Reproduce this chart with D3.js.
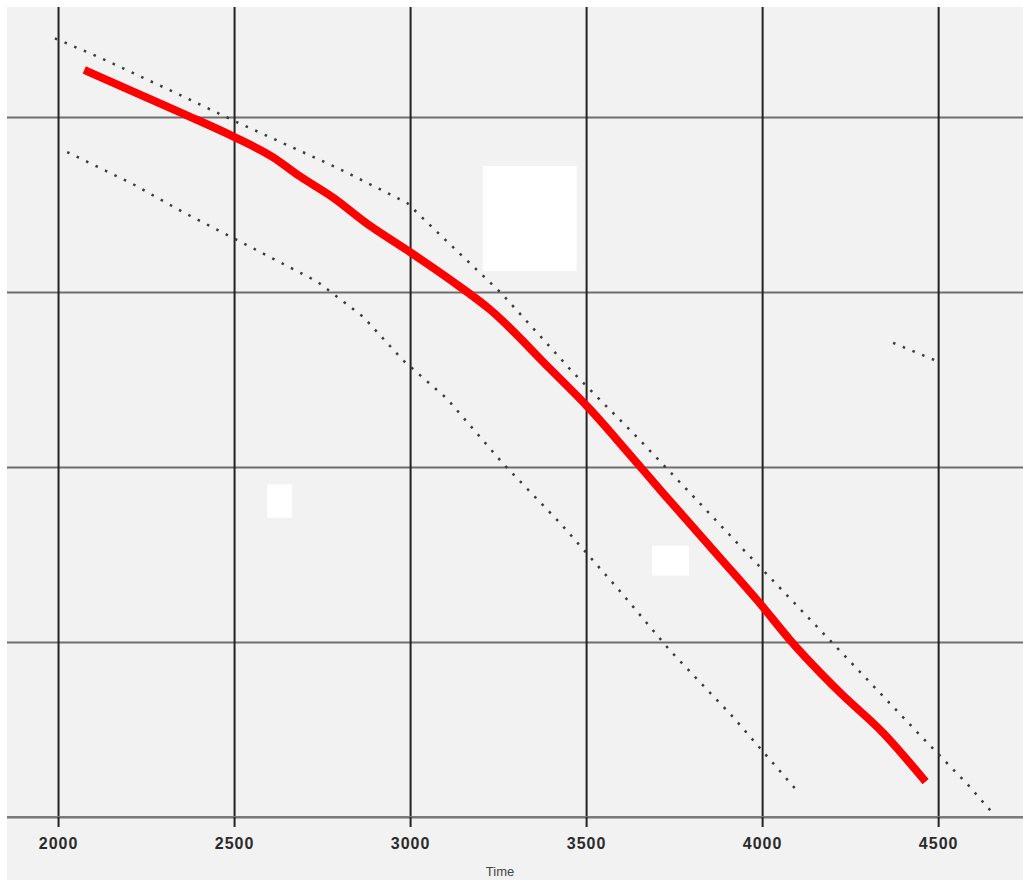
<!DOCTYPE html>
<html>
<head>
<meta charset="utf-8">
<script src="https://cdn.jsdelivr.net/npm/d3@7"></script>
<style>
  body { margin: 0; background: #ffffff; }
  #container { width: 1023px; height: 880px; overflow: hidden; }
</style>
</head>
<body>
<div id="container"></div>
<script>
let w = 1023;
let h = 880;

// tick labels along the bottom (time)
let xTicks = [2000, 2500, 3000, 3500, 4000, 4500];
// horizontal grid levels (no labels printed on the scan)
let yTicks = [0, 1, 2, 3, 4];

// red measured curve: time and value
let redTime  = [2085, 2355, 2497, 2611, 2688, 2781, 2878, 2991, 3114, 3227, 3398, 3511, 3616, 3719, 3881, 3994, 4080, 4222, 4344, 4457];
let redValue = [4.26, 4.02, 3.89, 3.77, 3.66, 3.54, 3.39, 3.24, 3.07, 2.90, 2.56, 2.33, 2.09, 1.85, 1.48, 1.22, 1.01, 0.71, 0.48, 0.22];

// upper dotted bound
let upperTime  = [1991, 2119, 2332, 2509, 2793, 2991, 3094, 3256, 3378, 3463, 3645, 3815, 3946, 4202, 4457, 4582, 4656];
let upperValue = [4.45, 4.34, 4.14, 3.97, 3.71, 3.51, 3.31, 3.00, 2.73, 2.54, 2.17, 1.81, 1.53, 0.99, 0.45, 0.19, 0.02];

// lower dotted bound
let lowerTime  = [2026, 2210, 2352, 2554, 2736, 2866, 2980, 3105, 3264, 3426, 3588, 3739, 3918, 4099];
let lowerValue = [3.80, 3.62, 3.46, 3.25, 3.06, 2.86, 2.61, 2.39, 2.02, 1.68, 1.31, 0.95, 0.57, 0.15];

// short stray dotted piece on the right
let strayTime  = [4372, 4491];
let strayValue = [2.71, 2.61];

// blank (white) patches on the scan, as [t0, t1, v0, v1]
let patches = [
  [3207, 3473, 3.72, 3.12],
  [2594, 2665, 1.90, 1.71],
  [3687, 3792, 1.55, 1.38]
];

function zip(ts, vs){
  return ts.map(function(t, i){
    return {t: t, v: vs[i]};
  });
}

let viz = d3.select("#container")
  .append("svg")
    .attr("width", w)
    .attr("height", h)
;

// plot area of the scan
let plotLeft = 7;
let plotRight = 1017;
let plotTop = 7;
let plotBottom = 817;

// paper background
viz.append("rect")
  .attr("x", plotLeft)
  .attr("y", plotTop)
  .attr("width", w - plotLeft)
  .attr("height", h - plotTop)
  .attr("fill", "#f2f2f2");

let xScale = d3.scaleLinear().domain([1855, 4724]).range([plotLeft, plotRight]);
let yScale = d3.scaleLinear().domain([0, 4.629]).range([plotBottom, plotTop]);

// white patches
viz.append("g").selectAll("rect").data(patches).enter().append("rect")
  .attr("x", function(d){ return xScale(d[0]); })
  .attr("y", function(d){ return yScale(d[2]); })
  .attr("width", function(d){ return xScale(d[1]) - xScale(d[0]); })
  .attr("height", function(d){ return yScale(d[3]) - yScale(d[2]); })
  .attr("fill", "#ffffff");

// horizontal grid
let yGrid = d3.axisLeft(yScale).tickValues(yTicks).tickSize(-(w - plotLeft)).tickFormat("");
let yGridGroup = viz.append("g").attr("class", "ygrid")
  .attr("transform", "translate(" + plotLeft + ",0)")
  .call(yGrid);
yGridGroup.select(".domain").remove();
yGridGroup.selectAll("line").attr("stroke", "#6e6e6e").attr("stroke-width", 2);

// vertical grid
let xGrid = d3.axisBottom(xScale).tickValues(xTicks).tickSize(-(plotBottom - plotTop)).tickFormat("");
let xGridGroup = viz.append("g").attr("class", "xgrid")
  .attr("transform", "translate(0," + plotBottom + ")")
  .call(xGrid);
xGridGroup.select(".domain").remove();
xGridGroup.selectAll("line").attr("stroke", "#222222").attr("stroke-width", 2);

// bottom axis with labels
let xAxis = d3.axisBottom(xScale).tickValues(xTicks).tickSize(10).tickSizeOuter(0).tickFormat(d3.format("d"));
let xAxisGroup = viz.append("g").attr("class", "xaxis")
  .attr("transform", "translate(0," + plotBottom + ")")
  .call(xAxis);
xAxisGroup.select(".domain")
  .attr("d", "M" + plotLeft + ",0H" + w)
  .attr("stroke", "#7a7a7a")
  .attr("stroke-width", 2);
xAxisGroup.selectAll(".tick line").attr("stroke", "#222222").attr("stroke-width", 2);
xAxisGroup.selectAll(".tick text")
  .attr("y", 21)
  .attr("fill", "#2a2a2a")
  .style("font-family", "Liberation Sans Narrow, Liberation Sans")
  .style("font-size", "16px")
  .style("font-weight", "bold")
  .style("letter-spacing", "1px");

// axis title, close to the bottom edge like the scan
viz.append("text")
  .attr("x", 500)
  .attr("y", 876)
  .attr("text-anchor", "middle")
  .attr("fill", "#444444")
  .style("font-family", "Liberation Sans Narrow, Liberation Sans")
  .style("font-size", "13px")
  .text("Time");

let line = d3.line()
  .x(function(d){ return xScale(d.t); })
  .y(function(d){ return yScale(d.v); });

// dotted bounds
let dotted = [zip(upperTime, upperValue), zip(lowerTime, lowerValue), zip(strayTime, strayValue)];
viz.append("g").selectAll("path").data(dotted).enter().append("path")
  .attr("d", line)
  .attr("fill", "none")
  .attr("stroke", "#3a3a3a")
  .attr("stroke-width", 2.5)
  .attr("stroke-dasharray", "2.5,8");

// red curve
viz.append("path")
  .datum(zip(redTime, redValue))
  .attr("d", line.curve(d3.curveMonotoneX))
  .attr("fill", "none")
  .attr("stroke", "#ff0000")
  .attr("stroke-width", 8)
  .attr("stroke-linecap", "square")
  .attr("stroke-linejoin", "round");
</script>
</body>
</html>
